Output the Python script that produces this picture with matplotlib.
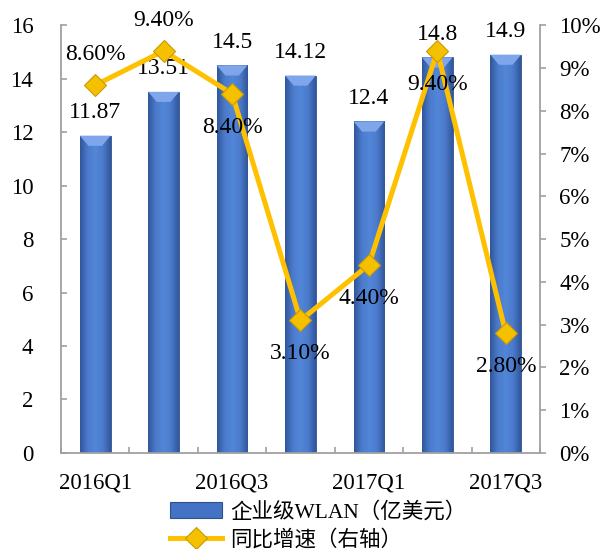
import numpy as np
import matplotlib; matplotlib.use('Agg')
import matplotlib.pyplot as plt
from matplotlib.colors import LinearSegmentedColormap
from matplotlib.patches import Polygon, Rectangle
from matplotlib.lines import Line2D
from matplotlib.ticker import FixedLocator, FuncFormatter

plt.rcParams['font.family'] = ['Liberation Serif', 'Noto Sans CJK SC']

quarters = ['2016Q1', '2016Q2', '2016Q3', '2016Q4', '2017Q1', '2017Q2', '2017Q3']
wlan = [11.87, 13.51, 14.5, 14.12, 12.4, 14.8, 14.9]      # 亿美元
growth = [8.6, 9.4, 8.4, 3.1, 4.4, 9.4, 2.8]              # 同比 %
growth_above = [True, True, False, False, False, False, False]

BLUE = '#4472C4'
GOLD = '#FFC000'
GREY = '#A0A0A0'

fig = plt.figure(figsize=(6.04, 5.49), dpi=100)
ax = fig.add_axes([0.101, 0.175, 0.793, 0.779])
x = np.arange(len(quarters))

bars = ax.bar(x, wlan, width=0.45, color=BLUE, edgecolor='#2F528F', lw=0.6, zorder=2)

# horizontal shading + light chevron on top of each bar
shade = LinearSegmentedColormap.from_list('shade', ['#30579C', '#4C7BCB', '#5286D8', '#4C7BCB', '#30579C'])
grad = np.linspace(0, 1, 64).reshape(1, -1)
for b in bars:
    x0, w, h = b.get_x(), b.get_width(), b.get_height()
    im = ax.imshow(grad, cmap=shade, extent=(x0, x0 + w, 0, h), aspect='auto', zorder=2.1)
    im.set_clip_path(b)
    d = 0.38
    ax.add_patch(Polygon([(x0, h), (x0 + w, h), (x0 + w * 0.72, h - d), (x0 + w * 0.28, h - d)],
                         closed=True, fc='#7FA6EA', ec='none', zorder=2.2))
    ax.annotate(f'{h:g}', (x0 + w / 2, h), xytext=(0, 16.5), textcoords='offset points',
                ha='center', va='center', fontsize=17, zorder=5)

ax.set_xlim(-0.5, len(quarters) - 0.5)
ax.set_ylim(0, 16)
ax.set_yticks(np.arange(0, 17, 2))
ax.xaxis.set_major_locator(FixedLocator(x[::2]))
ax.set_xticklabels(quarters[::2])
ax.xaxis.set_minor_locator(FixedLocator(np.arange(-0.5, len(quarters), 1.0)))
ax.tick_params(axis='x', which='major', length=0, pad=14, labelsize=16.5)
ax.tick_params(axis='x', which='minor', direction='in', length=4, width=1.2, color=GREY)
ax.tick_params(axis='y', direction='in', length=4, width=1.2, color=GREY, pad=20, labelsize=16.5)
for s in ['top', 'right']:
    ax.spines[s].set_visible(False)
for s in ['left', 'bottom']:
    ax.spines[s].set_color(GREY)
    ax.spines[s].set_linewidth(1.3)

ax2 = ax.twinx()
ax2.plot(x, growth, color=GOLD, lw=3.6, marker='D', ms=11, mfc='#F5C000',
         mec='#C89A00', mew=0.8, zorder=4, solid_joinstyle='miter')
for xi, v, up in zip(x, growth, growth_above):
    ax2.annotate(f'{v:.2f}%', (xi, v), xytext=(0, 22 if up else -24), textcoords='offset points',
                 ha='center', va='center', fontsize=17, zorder=6)
ax2.set_ylim(0, 10)
ax2.set_yticks(np.arange(0, 11, 1))
ax2.yaxis.set_major_formatter(FuncFormatter(lambda v, _: f'{v:.0f}%'))
ax2.tick_params(axis='y', direction='out', length=4, width=1.2, color=GREY, pad=10, labelsize=16.5)
for s in ['top', 'left', 'bottom']:
    ax2.spines[s].set_visible(False)
ax2.spines['right'].set_color(GREY)
ax2.spines['right'].set_linewidth(1.3)

h_bar = Rectangle((0, 0), 1, 1, fc=BLUE, ec='#2F528F', lw=0.8)
h_line = Line2D([], [], color=GOLD, lw=3.6, marker='D', ms=11, mfc='#F5C000', mec='#C89A00', mew=0.8)
fig.legend([h_bar, h_line], ['企业级WLAN（亿美元）', '同比增速（右轴）'],
           loc='center', bbox_to_anchor=(0.527, 0.042), frameon=False, fontsize=15.5,
           handlelength=2.4, handleheight=0.75, labelspacing=0.33, handletextpad=0.4,
           borderpad=0.1)

fig.savefig('out.png', dpi=100, facecolor='white')
